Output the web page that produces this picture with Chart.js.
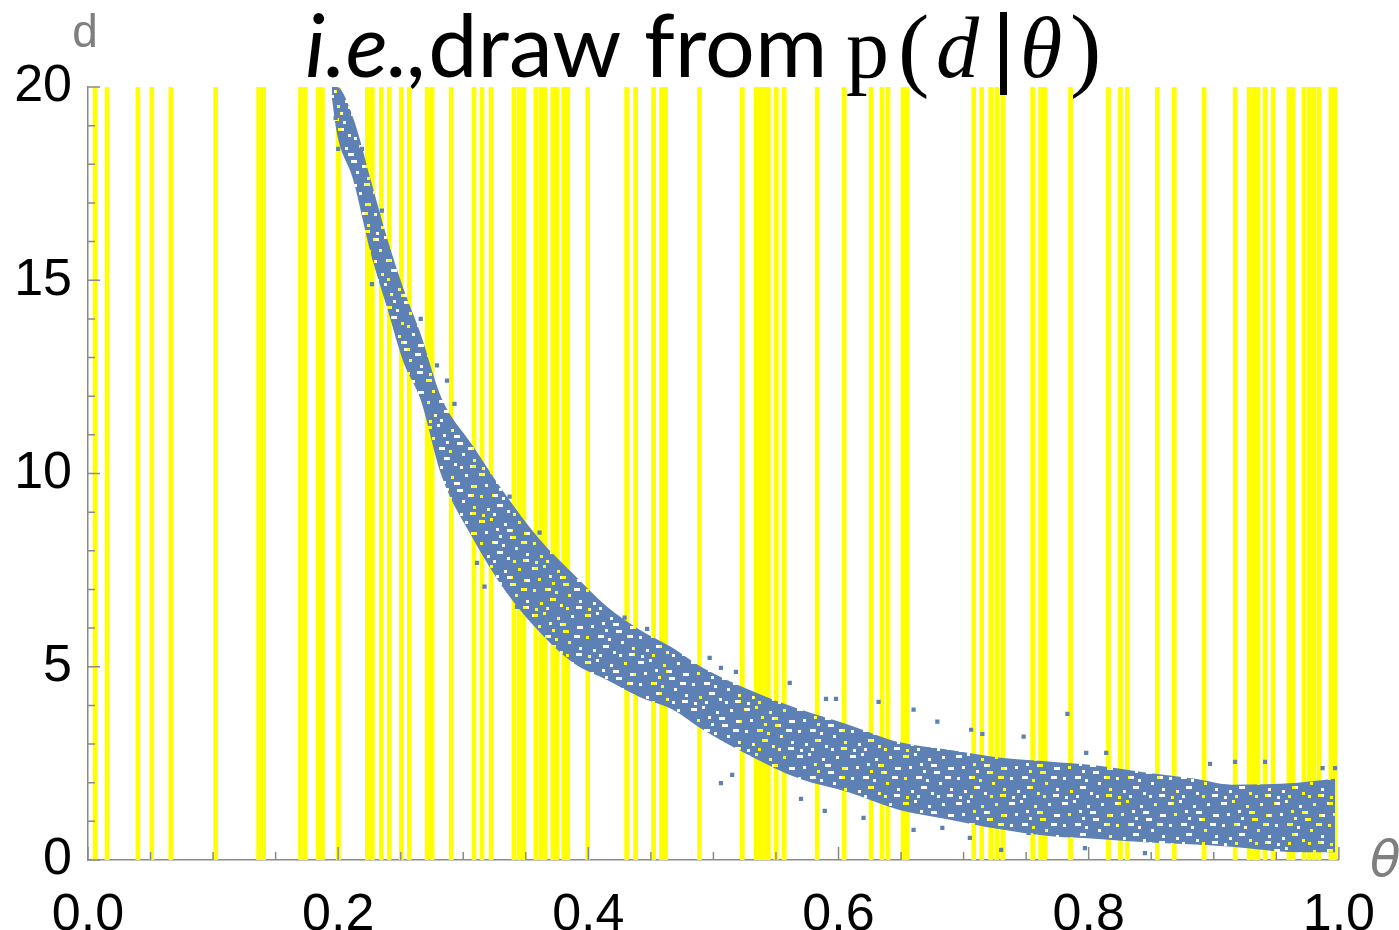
<!DOCTYPE html>
<html>
<head>
<meta charset="utf-8">
<script src="https://cdn.jsdelivr.net/npm/chart.js@4.4.1/dist/chart.umd.min.js"></script>
<style>
  html, body { margin: 0; padding: 0; background: #fff; }
  #wrap { width: 1399px; height: 930px; position: relative; }
</style>
</head>
<body>
<div id="wrap"><canvas id="chart"></canvas></div>
<script>
// theta positions of the yellow sample lines
var yellowTheta = [
  0.0056, 0.0152, 0.0399, 0.0510, 0.0662, 0.1021, 0.1364, 0.1404, 0.1699, 0.1738,
  0.1842, 0.1874, 0.2002, 0.2233, 0.2273, 0.2344, 0.2408, 0.2504, 0.2568, 0.2711,
  0.2751, 0.2903, 0.3086, 0.3150, 0.3222, 0.3405, 0.3445, 0.3485, 0.3581, 0.3620,
  0.3652, 0.3716, 0.3748, 0.3804, 0.3836, 0.3995, 0.4306, 0.4378, 0.4522, 0.4585,
  0.4617, 0.4888, 0.5231, 0.5343, 0.5375, 0.5407, 0.5439, 0.5502, 0.5566, 0.5829,
  0.6045, 0.6260, 0.6348, 0.6396, 0.6515, 0.6547, 0.7081, 0.7145, 0.7217, 0.7265,
  0.7313, 0.7552, 0.7616, 0.7648, 0.7855, 0.8158, 0.8254, 0.8309, 0.8549, 0.8684,
  0.8923, 0.9171, 0.9282, 0.9322, 0.9354, 0.9410, 0.9474, 0.9601, 0.9633, 0.9721,
  0.9761, 0.9801, 0.9841, 0.9936, 0.9968
];

// the blue cloud of draws: upper and lower edge of the dense band
var bandTheta = [0.195, 0.199, 0.212, 0.226, 0.239, 0.252, 0.266, 0.282, 0.308, 0.335,
  0.361, 0.388, 0.415, 0.441, 0.467, 0.49, 0.529, 0.569, 0.608, 0.648,
  0.688, 0.728, 0.768, 0.805, 0.848, 0.885, 0.914, 0.967, 0.997];
var bandUpper = [20, 20, 19.2, 17.6, 16.1, 14.8, 13.6, 12.0, 10.7, 9.4,
  8.3, 7.4, 6.55, 5.96, 5.5, 5.0, 4.4, 3.9, 3.5, 3.05,
  2.85, 2.65, 2.55, 2.45, 2.25, 2.1, 1.95, 2.0, 2.1];
var bandLower = [19.7, 18.8, 17.6, 15.7, 14.3, 12.9, 11.9, 10.0, 8.3, 6.9,
  5.9, 5.1, 4.66, 4.22, 3.9, 3.4, 2.7, 2.1, 1.75, 1.3,
  1.05, 0.8, 0.62, 0.55, 0.45, 0.4, 0.34, 0.2, 0.2];

// stray draws outside the dense band
var strayTheta = [0.198, 0.200, 0.219, 0.235, 0.227, 0.266, 0.279, 0.287, 0.293, 0.337,
  0.361, 0.317, 0.311, 0.429, 0.447, 0.343, 0.369, 0.497, 0.506, 0.518,
  0.561, 0.590, 0.598, 0.632, 0.660, 0.679, 0.783, 0.506, 0.515, 0.570,
  0.589, 0.620, 0.660, 0.705, 0.730, 0.797, 0.706, 0.715, 0.748, 0.798,
  0.814, 0.897, 0.917, 0.941, 0.987, 0.997, 0.683, 0.752, 0.845];
var strayD = [19.2, 18.4, 18.4, 16.8, 14.9, 14.0, 12.8, 12.4, 11.8, 9.4,
  8.47, 7.07, 7.69, 6.27, 5.98, 6.55, 6.01, 5.23, 4.97, 4.87,
  4.58, 4.17, 4.17, 4.09, 3.89, 3.58, 3.78, 1.99, 2.2, 1.58,
  1.27, 1.09, 0.78, 0.57, 0.26, 0.31, 3.37, 3.26, 3.19, 2.77,
  2.77, 2.49, 2.54, 2.54, 2.38, 2.38, 0.83, 0.7, 0.18];

var xTicks = [0, 0.2, 0.4, 0.6, 0.8, 1.0];
var yTicks = [0, 5, 10, 15, 20];

var blue = 'rgb(94, 129, 181)';
var axisGrey = '#8a8a8a';

// speckled fill so the band looks like a cloud of points
function makeSpeckle() {
  var c = document.createElement('canvas');
  c.width = 53;
  c.height = 47;
  var g = c.getContext('2d');
  g.fillStyle = blue;
  g.fillRect(0, 0, 53, 47);
  [[2, 3], [13, 1], [27, 6], [33, 19], [8, 14], [19, 11], [15, 24], [25, 27], [3, 25],
   [30, 12], [22, 18], [41, 4], [47, 15], [38, 30], [49, 36], [44, 24], [10, 38], [30, 40],
   [20, 34], [36, 43], [5, 44], [46, 42], [16, 43]].forEach(function(h, k) {
    g.clearRect(h[0], h[1], k % 3 === 0 ? 6 : 3, 3);
  });
  return g.createPattern(c, 'repeat');
}

var tickMarks = {
  id: 'tickMarks',
  afterDatasetsDraw: function(chart) {
    var ctx = chart.ctx;
    var xs = chart.scales.x, ys = chart.scales.y;
    var area = chart.chartArea;
    ctx.save();
    ctx.strokeStyle = axisGrey;
    ctx.lineWidth = 1.5;
    ctx.beginPath();
    for (var i = 0; i <= 20; i++) {
      var px = xs.getPixelForValue(i * 0.05);
      var len = (i % 4 === 0) ? 13 : 8;
      ctx.moveTo(px, area.bottom);
      ctx.lineTo(px, area.bottom - len);
    }
    for (var j = 0; j <= 20; j++) {
      var py = ys.getPixelForValue(j);
      var l2 = (j % 5 === 0) ? 12 : 7;
      ctx.moveTo(area.left, py);
      ctx.lineTo(area.left + l2, py);
    }
    ctx.stroke();
    ctx.restore();
  }
};

var titles = {
  id: 'titles',
  afterDraw: function(chart) {
    var ctx = chart.ctx;
    ctx.save();
    ctx.textBaseline = 'alphabetic';
    // axis names
    ctx.fillStyle = '#7f7f7f';
    ctx.textAlign = 'center';
    ctx.font = '46px "Liberation Sans"';
    ctx.fillText('d', 85, 47);
    ctx.textAlign = 'left';
    ctx.font = 'italic 50px "DejaVu Sans"';
    ctx.fillText('\u03B8', 1370, 876);
    // title
    ctx.fillStyle = '#000';
    var x = 305, base = 77;
    ctx.font = 'italic 88px Lato';
    ctx.fillText('i.e.,', x, base);
    x += ctx.measureText('i.e.,').width;
    ctx.font = '88px Lato';
    ctx.fillText('draw from', x, base);
    ctx.font = '86px "Liberation Serif"';
    ctx.fillText('p', 846, base);
    ctx.font = '94px "Liberation Serif"';
    ctx.fillText('(', 898, base + 2);
    ctx.font = 'italic 86px "Liberation Serif"';
    ctx.fillText('d', 936, base);
    ctx.fillRect(1000, 12, 7, 83);
    ctx.fillText('\u03B8', 1020, base);
    ctx.font = '94px "Liberation Serif"';
    ctx.fillText(')', 1070, base + 2);
    ctx.restore();
  }
};

var yellowData = yellowTheta.map(function(t) { return { x: t, y: [0, 20] }; });
var upperData = bandTheta.map(function(t, i) { return { x: t, y: bandUpper[i] }; });
var lowerData = bandTheta.map(function(t, i) { return { x: t, y: bandLower[i] }; });
var strayData = strayTheta.map(function(t, i) { return { x: t, y: strayD[i] }; });

var ctx = document.getElementById('chart').getContext('2d');
var chart = new Chart(ctx, {
  data: {
    datasets: [{
      type: 'scatter',
      label: 'stray',
      data: strayData,
      pointStyle: 'rect',
      pointRadius: 3,
      pointBorderWidth: 0,
      backgroundColor: blue,
      borderColor: blue,
      order: 0
    }, {
      type: 'line',
      label: 'upper',
      data: upperData,
      borderWidth: 0,
      pointRadius: 0,
      cubicInterpolationMode: 'monotone',
      backgroundColor: makeSpeckle(),
      fill: '+1',
      order: 1
    }, {
      type: 'line',
      label: 'lower',
      data: lowerData,
      borderWidth: 0,
      pointRadius: 0,
      cubicInterpolationMode: 'monotone',
      fill: false,
      order: 1
    }, {
      type: 'bar',
      label: 'samples',
      data: yellowData,
      backgroundColor: '#ffff00',
      borderWidth: 0,
      barThickness: 4,
      grouped: false,
      order: 5
    }]
  },
  options: {
    responsive: true,
    maintainAspectRatio: false,
    animation: false,
    layout: {
      padding: { left: 0, right: 58, top: 87, bottom: 0 }
    },
    scales: {
      x: {
        type: 'linear',
        min: 0,
        max: 1,
        offset: false,
        afterFit: function(s) { s.height = 70; },
        afterBuildTicks: function(s) { s.ticks = xTicks.map(function(v) { return { value: v }; }); },
        grid: { display: false, drawTicks: false, offset: false },
        border: { display: true, color: axisGrey, width: 1.5 },
        ticks: {
          padding: 24,
          color: '#000',
          font: { family: 'Liberation Sans', size: 52 },
          maxRotation: 0,
          callback: function(v) { return v.toFixed(1); }
        }
      },
      y: {
        type: 'linear',
        min: 0,
        max: 20,
        afterFit: function(s) { s.width = 88; },
        afterBuildTicks: function(s) { s.ticks = yTicks.map(function(v) { return { value: v }; }); },
        grid: { display: false, drawTicks: false },
        border: { display: true, color: axisGrey, width: 1.5 },
        ticks: {
          padding: 16,
          color: '#000',
          font: { family: 'Liberation Sans', size: 52 }
        }
      }
    },
    plugins: {
      legend: { display: false },
      tooltip: { enabled: false },
      title: { display: false }
    }
  },
  plugins: [tickMarks, titles]
});
</script>
</body>
</html>
